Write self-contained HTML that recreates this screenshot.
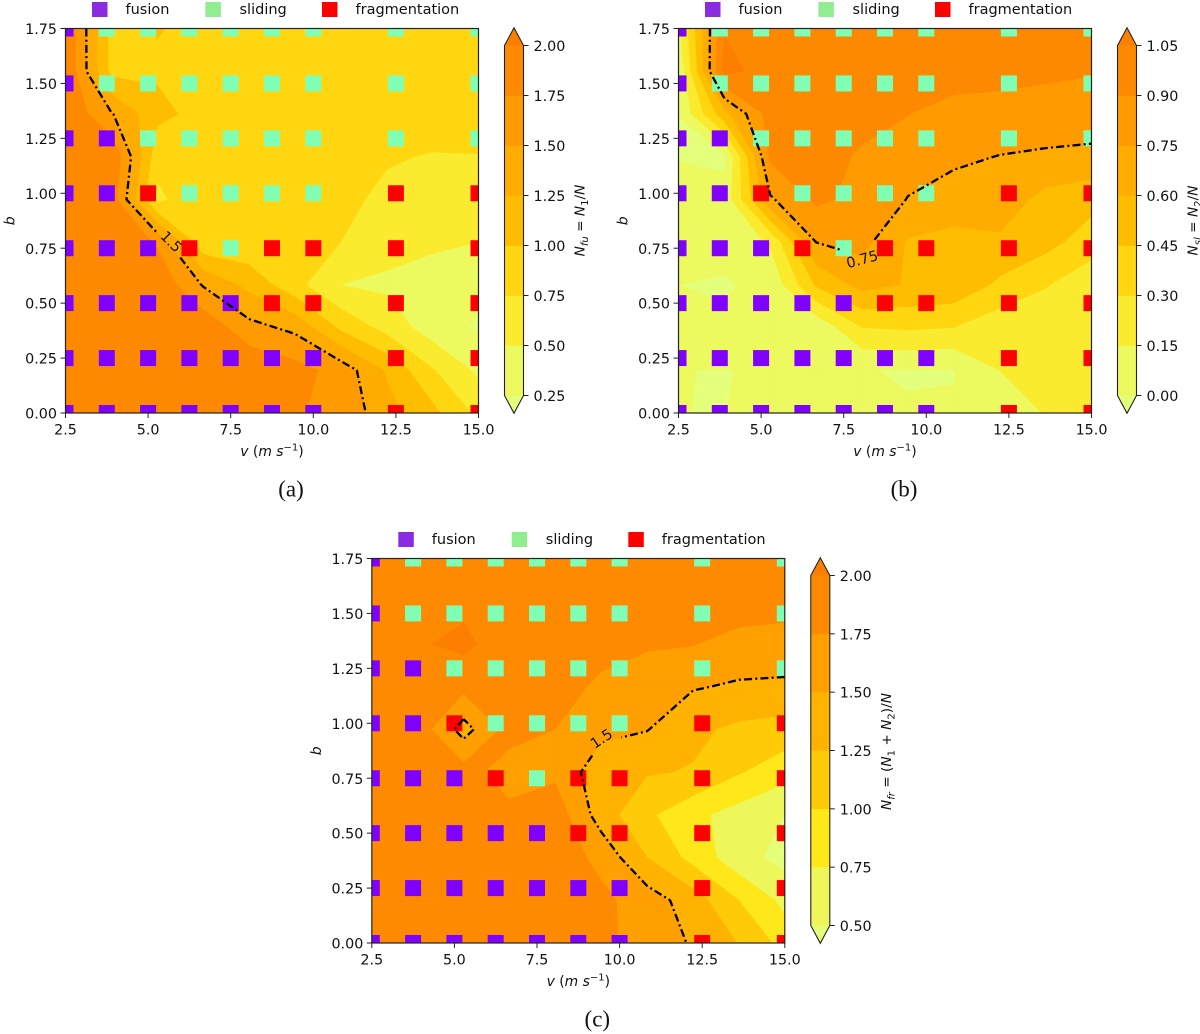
<!DOCTYPE html>
<html lang="en">
<head>
<meta charset="utf-8">
<title>Collision outcome contour maps</title>
<style>
html,body{margin:0;padding:0;background:#fff;}
svg{display:block;}
text{font-family:"DejaVu Sans","Liberation Sans",sans-serif;fill:#111;}
.cap{font-family:"Liberation Serif",serif;font-size:23px;}
</style>
</head>
<body>
<svg id="figure" xmlns="http://www.w3.org/2000/svg" width="1200" height="1034" viewBox="0 0 1200 1034"></svg>
<script>
// ---- chart data ----
const gridV = [2.5, 3.889, 5.278, 6.667, 8.056, 9.444, 10.833, 12.222, 13.611, 15];
const gridB = [1.75, 1.5556, 1.3611, 1.1667, 0.9722, 0.7778, 0.5833, 0.3889, 0.1944, 0];

const fusionValues = [
  [1.98,.92,1.01,.95,.95,.93,.95,.9,.9,.9],
  [1.98,.93,.97,.93,.93,.93,.93,.92,.9,.9],
  [1.97,1.52,1.06,.93,.93,.92,.93,.92,.92,.9],
  [1.98,1.99,.85,.85,.88,.88,.87,.78,.73,.74],
  [1.98,1.9,.68,.98,.9,.85,.83,.68,.62,.6],
  [1.98,1.98,1.72,.81,.8,.78,.75,.6,.53,.5],
  [1.98,1.98,1.95,1.48,1.18,.83,.5,.45,.42,.31],
  [1.98,1.98,1.98,1.95,1.58,1.44,.95,.665,.37,.22],
  [1.98,1.98,1.98,1.98,1.98,1.85,1.65,1.22,.77,.45],
  [1.98,1.98,1.98,1.98,1.98,1.77,1.69,1.34,1.07,.69]
];
const slidingValues = [
  [.12,1.04,1.0,.98,.98,.98,.98,.98,.98,.97],
  [.01,1.1,.99,1.03,1.02,1.0,1.0,.97,.93,.91],
  [.001,.55,.97,1.0,.98,.905,.82,.82,.83,.83],
  [-.01,-.03,.93,1.0,.87,.81,.77,.747,.73,.715],
  [.08,.05,.73,.93,.86,.745,.705,.69,.55,.5],
  [.08,.033,.17,.752,.8,.585,.538,.573,.5,.375],
  [.0004,-.01,.03,.47,.65,.59,.563,.419,.31,.2],
  [.05,.0125,.03,.03,.3,.32,.3,.203,.2,.2],
  [.0002,-.0003,.0012,.06,.003,-.005,-.002,.15,.2,.2],
  [.0008,-.002,.05,.04,.05,.005,.004,.1,.155,.2]
];
const fragmentationValues = [
  [1.9,1.9,1.92,1.92,1.92,1.92,1.92,1.92,1.9,1.85],
  [1.93,1.93,1.94,1.93,1.92,1.92,1.92,1.9,1.88,1.85],
  [1.93,1.975,2.06,1.86,1.92,1.9,1.77,1.76,1.667,1.65],
  [1.93,1.93,1.817,1.9,1.93,1.67,1.66,1.52,1.468,1.456],
  [1.93,1.9,1.40,1.85,1.75,1.57,1.51,1.3,1.2,1.15],
  [1.93,1.93,1.85,1.63,1.7,1.34,1.27,1.235,1.02,.844],
  [1.93,1.93,1.9,1.82,1.9,1.38,1.05,.81,.65,.495],
  [1.93,1.93,1.93,1.93,1.9,1.68,1.25,.917,.59,.423],
  [1.93,1.93,1.93,1.93,1.9,1.813,1.627,1.373,1.0,.68],
  [1.93,1.93,1.93,1.93,1.9,1.79,1.68,1.47,1.24,.91]
];

const markerV = [2.5, 3.75, 5, 6.25, 7.5, 8.75, 10, 12.5, 15];
const markerB = [1.75, 1.5, 1.25, 1, 0.75, 0.5, 0.25, 0];
const markerOutcomes = [
  "FSSSSSSSS",
  "FSSSSSSSS",
  "FFSSSSSSS",
  "FFRSSSSRR",
  "FFFRSRRRR",
  "FFFFFRRRR",
  "FFFFFFFRR",
  "FFFFFFFRR"
];

const xTickValues = [2.5, 5, 7.5, 10, 12.5, 15];
const xTickLabels = ["2.5", "5.0", "7.5", "10.0", "12.5", "15.0"];
const yTickValues = [0, 0.25, 0.5, 0.75, 1, 1.25, 1.5, 1.75];
const yTickLabels = ["0.00", "0.25", "0.50", "0.75", "1.00", "1.25", "1.50", "1.75"];

const levelsA = [0.25, 0.5, 0.75, 1, 1.25, 1.5, 1.75, 2];
const levelLabelsA = ["0.25", "0.50", "0.75", "1.00", "1.25", "1.50", "1.75", "2.00"];
const levelsB = [0, 0.15, 0.3, 0.45, 0.6, 0.75, 0.9, 1.05];
const levelLabelsB = ["0.00", "0.15", "0.30", "0.45", "0.60", "0.75", "0.90", "1.05"];
const levelsC = [0.5, 0.75, 1, 1.25, 1.5, 1.75, 2];
const levelLabelsC = ["0.50", "0.75", "1.00", "1.25", "1.50", "1.75", "2.00"];

const bandColorsAB = ["#e4ff7a", "#ecf95f", "#fbeb2e", "#ffd60f", "#ffbd00", "#ffac00", "#ff9b00", "#fd8900", "#fc7f00"];
const bandColorsC = ["#e4ff7a", "#edf75a", "#ffe81a", "#ffcb09", "#ffb300", "#ffa000", "#fd8a00", "#fc7f00"];

const legendNames = ["fusion", "sliding", "fragmentation"];
const legendColors = ["#8a2be2", "#90ee90", "#ff0000"];
const outcomeColors = { F: "#8000ff", S: "#80ffb4", R: "#ff0000" };

// ---- helpers ----
const NS = "http://www.w3.org/2000/svg";
const root = document.getElementById("figure");
function add(tag, parent, attrs, text) {
  const el = document.createElementNS(NS, tag);
  for (const k in attrs) el.setAttribute(k, attrs[k]);
  if (text !== undefined) el.textContent = text;
  parent.appendChild(el);
  return el;
}
function rich(el, parts) {
  let shift = 0;
  parts.forEach(function (p) {
    const t = document.createElementNS(NS, "tspan");
    const want = p.s === "sub" ? 3.5 : p.s === "sup" ? -5.5 : 0;
    if (want !== shift) t.setAttribute("dy", want - shift);
    shift = want;
    if (p.i) t.setAttribute("font-style", "italic");
    if (want !== 0) t.setAttribute("font-size", "10");
    t.textContent = p.t;
    el.appendChild(t);
  });
}

// clip a polygon [x,y,z] to z >= level
function clipPoly(poly, level) {
  const out = [];
  for (let k = 0; k < poly.length; k++) {
    const a = poly[k], b = poly[(k + 1) % poly.length];
    const ia = a[2] >= level, ib = b[2] >= level;
    if (ia) out.push(a);
    if (ia !== ib) {
      const t = (level - a[2]) / (b[2] - a[2]);
      out.push([a[0] + t * (b[0] - a[0]), a[1] + t * (b[1] - a[1]), level]);
    }
  }
  return out;
}

// iso-line segments chained into polylines
function isoLines(vals, level, xs, ys) {
  const rows = vals.length, cols = vals[0].length;
  const nbr = {}, pts = {};
  function edgePoint(key, x0, y0, z0, x1, y1, z1) {
    const t = (level - z0) / (z1 - z0);
    pts[key] = [x0 + t * (x1 - x0), y0 + t * (y1 - y0)];
    return key;
  }
  function link(a, b) {
    (nbr[a] = nbr[a] || []).push(b);
    (nbr[b] = nbr[b] || []).push(a);
  }
  for (let r = 0; r < rows - 1; r++) {
    for (let c = 0; c < cols - 1; c++) {
      const z = [vals[r][c], vals[r][c + 1], vals[r + 1][c + 1], vals[r + 1][c]];
      const px = [xs[c], xs[c + 1], xs[c + 1], xs[c]];
      const py = [ys[r], ys[r], ys[r + 1], ys[r + 1]];
      const keys = ["h" + r + "_" + c, "v" + r + "_" + (c + 1), "h" + (r + 1) + "_" + c, "v" + r + "_" + c];
      const hit = [];
      for (let e = 0; e < 4; e++) {
        const n = (e + 1) % 4;
        if ((z[e] >= level) !== (z[n] >= level)) {
          hit.push(edgePoint(keys[e], px[e], py[e], z[e], px[n], py[n], z[n]));
        }
      }
      if (hit.length === 2) link(hit[0], hit[1]);
      else if (hit.length === 4) {
        const centre = (z[0] + z[1] + z[2] + z[3]) / 4;
        if ((centre >= level) === (z[0] >= level)) { link(hit[0], hit[1]); link(hit[2], hit[3]); }
        else { link(hit[0], hit[3]); link(hit[1], hit[2]); }
      }
    }
  }
  const seen = {}, lines = [];
  function walk(start) {
    const line = [start];
    seen[start] = true;
    let cur = start, go = true;
    while (go) {
      go = false;
      for (const n of nbr[cur]) {
        if (!seen[n]) { seen[n] = true; line.push(n); cur = n; go = true; break; }
      }
    }
    if (nbr[cur].indexOf(start) >= 0 && line.length > 2) line.push(start);
    return line.map(function (k) { return pts[k]; });
  }
  Object.keys(nbr).forEach(function (k) { if (nbr[k].length === 1 && !seen[k]) lines.push(walk(k)); });
  Object.keys(nbr).forEach(function (k) { if (!seen[k]) lines.push(walk(k)); });
  return lines;
}

// cut a polyline where it passes behind a contour label
function cutAround(line, cx, cy, rad) {
  const out = [];
  let cur = [];
  for (let k = 0; k < line.length - 1; k++) {
    const a = line[k], b = line[k + 1];
    const steps = Math.max(1, Math.ceil(Math.hypot(b[0] - a[0], b[1] - a[1]) / 1.5));
    for (let s = 0; s < steps; s++) {
      const t = s / steps, x = a[0] + t * (b[0] - a[0]), y = a[1] + t * (b[1] - a[1]);
      if (Math.hypot(x - cx, y - cy) < rad) {
        if (cur.length > 1) out.push(cur);
        cur = [];
      } else {
        cur.push([x, y]);
      }
    }
  }
  const last = line[line.length - 1];
  if (Math.hypot(last[0] - cx, last[1] - cy) >= rad) cur.push(last);
  if (cur.length > 1) out.push(cur);
  return out;
}

// ---- panel drawing ----
function drawPanel(cfg) {
  const g = add("g", root, {});
  
  

  const L = cfg.left, R = cfg.left + 413, T = cfg.top, B = cfg.top + 384.5;
  const xScale = function (v) { return L + (v - 2.5) / 12.5 * (R - L); };
  const yScale = function (b) { return B - b / 1.75 * (B - T); };
  const xs = gridV.map(xScale), ys = gridB.map(yScale);
  const clipId = "clip-" + cfg.name;
  const defs = add("defs", g, {});
  const cp = add("clipPath", defs, { id: clipId });
  add("rect", cp, { x: L, y: T, width: R - L, height: B - T });

  const plot = add("g", g, { "clip-path": "url(#" + clipId + ")" });
  
  

  // filled bands: painter's order from lowest level upward
  const under = add("rect", plot, { x: L, y: T, width: R - L, height: B - T, fill: cfg.colors[0] });
  
  
  cfg.levels.forEach(function (lev, idx) {
    let d = "";
    for (let r = 0; r < cfg.values.length - 1; r++) {
      for (let c = 0; c < cfg.values[0].length - 1; c++) {
        const quad = [
          [xs[c], ys[r], cfg.values[r][c]],
          [xs[c + 1], ys[r], cfg.values[r][c + 1]],
          [xs[c + 1], ys[r + 1], cfg.values[r + 1][c + 1]],
          [xs[c], ys[r + 1], cfg.values[r + 1][c]]
        ];
        const poly = clipPoly(quad, lev);
        if (poly.length > 2) {
          d += "M" + poly.map(function (p) { return p[0].toFixed(2) + " " + p[1].toFixed(2); }).join("L") + "Z";
        }
      }
    }
    const band = add("path", plot, { d: d, fill: cfg.colors[idx + 1], stroke: cfg.colors[idx + 1], "stroke-width": 0.3 });
    
    
  });

  // scatter markers
  markerOutcomes.forEach(function (row, r) {
    markerV.forEach(function (v, c) {
      const kind = row[c];
      const m = add("rect", plot, { x: xScale(v) - 8, y: yScale(markerB[r]) - 8, width: 16, height: 16, fill: outcomeColors[kind] });
      
      
    });
  });

  // iso-line
  const lx = xScale(cfg.labelV), ly = yScale(cfg.labelB);
  isoLines(cfg.values, cfg.lineLevel, xs, ys).forEach(function (line) {
    cutAround(line, lx, ly, cfg.labelGap).forEach(function (piece) {
      const d = "M" + piece.map(function (p) { return p[0].toFixed(2) + " " + p[1].toFixed(2); }).join("L");
      const path = add("path", plot, { d: d, fill: "none", stroke: "#000", "stroke-width": 2.3, "stroke-dasharray": "8 3.2 2 3.2", "stroke-linejoin": "round" });
      
      
    });
  });
  const lab = add("text", g, { x: lx, y: ly + 5, "text-anchor": "middle", "font-size": 14.5, transform: "rotate(" + cfg.labelAngle + " " + lx + " " + ly + ")" }, cfg.lineLabel);
  
  

  // frame
  const frame = add("rect", g, { x: L, y: T, width: R - L, height: B - T, fill: "none", stroke: "#222", "stroke-width": 1.2 });
  
  

  // x axis
  xTickValues.forEach(function (v, i) {
    const x = xScale(v);
    const t = add("line", g, { x1: x, x2: x, y1: B, y2: B + 5, stroke: "#222", "stroke-width": 1 });
    
    
    const tl = add("text", g, { x: x, y: B + 21.3, "text-anchor": "middle", "font-size": 14.3 }, xTickLabels[i]);
    
    
  });
  // y axis
  yTickValues.forEach(function (b, i) {
    const y = yScale(b);
    const t = add("line", g, { x1: L - 5, x2: L, y1: y, y2: y, stroke: "#222", "stroke-width": 1 });
    
    
    const tl = add("text", g, { x: L - 8.5, y: y + 5.6, "text-anchor": "end", "font-size": 14.3 }, yTickLabels[i]);
    
    
  });

  const xt = add("text", g, { x: (L + R) / 2, y: B + 43, "text-anchor": "middle", "font-size": 13.9 });
  
  
  rich(xt, [{ t: "v", i: 1 }, { t: " (" }, { t: "m s", i: 1 }, { t: "−1", s: "sup" }, { t: ")" }]);

  const ytX = L - 51, ytY = (T + B) / 2;
  const yt = add("text", g, { x: ytX, y: ytY, "text-anchor": "middle", "font-size": 14, "font-style": "italic", transform: "rotate(-90 " + ytX + " " + ytY + ")" }, "b");
  
  

  // legend
  const legendBoxX = [26.5, 139.9, 256.5];
  const legendTextX = [60, 174, 290];
  legendNames.forEach(function (name, i) {
    const s = add("rect", g, { x: L + legendBoxX[i], y: T - 26.5, width: 15.5, height: 15, fill: legendColors[i] });
    
    
    const t = add("text", g, { x: L + legendTextX[i], y: T - 14.3, "font-size": 14.5 }, name);
    
    
  });

  // colorbar
  const cbL = L + 439, cbR = L + 458, cbTop = cfg.top + 17, cbBot = cfg.top + 367;
  const cbMid = (cbL + cbR) / 2;
  const nSteps = cfg.levels.length - 1;
  const cy = function (i) { return cbBot - i / nSteps * (cbBot - cbTop); };
  const cbar = add("g", g, {});
  
  
  const lowTip = add("path", cbar, { d: "M" + cbL + " " + cbBot + "L" + cbR + " " + cbBot + "L" + cbMid + " " + (B + 0.3) + "Z", fill: cfg.colors[0] });
  
  
  const highTip = add("path", cbar, { d: "M" + cbL + " " + cbTop + "L" + cbR + " " + cbTop + "L" + cbMid + " " + (T - 0.7) + "Z", fill: cfg.colors[cfg.colors.length - 1] });
  
  
  for (let i = 0; i < nSteps; i++) {
    const seg = add("rect", cbar, { x: cbL, y: cy(i + 1), width: cbR - cbL, height: cy(i) - cy(i + 1) + 0.3, fill: cfg.colors[i + 1] });
    
    
  }
  const outline = add("path", cbar, { d: "M" + cbL + " " + cbBot + "L" + cbMid + " " + (B + 0.3) + "L" + cbR + " " + cbBot + "L" + cbR + " " + cbTop + "L" + cbMid + " " + (T - 0.7) + "L" + cbL + " " + cbTop + "Z", fill: "none", stroke: "#222", "stroke-width": 1.1 });
  
  
  cfg.levelLabels.forEach(function (txt, i) {
    const y = cy(i);
    const t = add("line", cbar, { x1: cbR, x2: cbR + 5, y1: y, y2: y, stroke: "#222", "stroke-width": 1 });
    
    
    const tl = add("text", cbar, { x: cbR + 10, y: y + 5.5, "font-size": 14.3 }, txt);
    
    
  });
  const cx = L + cfg.cbLabelDx, cyMid = cfg.top + cfg.cbLabelDy;
  const cl = add("text", cbar, { x: cx, y: cyMid, "text-anchor": "middle", "font-size": 13.7, transform: "rotate(-90 " + cx + " " + cyMid + ")" });
  
  
  rich(cl, cfg.cbLabel);

  // caption
  const cap = add("text", g, { x: L + 225.5, y: B + 83.5, "text-anchor": "middle", "class": "cap" }, cfg.caption);
  
  
}

drawPanel({
  name: "panel-a", left: 65.5, top: 28.5, values: fusionValues,
  levels: levelsA, levelLabels: levelLabelsA, colors: bandColorsAB,
  lineLevel: 1.5, lineLabel: "1.5", labelV: 5.7, labelB: 0.78, labelGap: 17, labelAngle: 45,
  cbLabelDx: 519, cbLabelDy: 192,
  cbLabel: [{ t: "N", i: 1 }, { t: "fu", i: 1, s: "sub" }, { t: " = " }, { t: "N", i: 1 }, { t: "1", s: "sub" }, { t: "/" }, { t: "N", i: 1 }],
  caption: "(a)"
});
drawPanel({
  name: "panel-b", left: 678.5, top: 28.5, values: slidingValues,
  levels: levelsB, levelLabels: levelLabelsB, colors: bandColorsAB,
  lineLevel: 0.75, lineLabel: "0.75", labelV: 8.06, labelB: 0.7, labelGap: 22, labelAngle: -15,
  cbLabelDx: 519, cbLabelDy: 192,
  cbLabel: [{ t: "N", i: 1 }, { t: "sl", i: 1, s: "sub" }, { t: " = " }, { t: "N", i: 1 }, { t: "2", s: "sub" }, { t: "/" }, { t: "N", i: 1 }],
  caption: "(b)"
});
drawPanel({
  name: "panel-c", left: 371.8, top: 558.5, values: fragmentationValues,
  levels: levelsC, levelLabels: levelLabelsC, colors: bandColorsC,
  lineLevel: 1.5, lineLabel: "1.5", labelV: 9.45, labelB: 0.93, labelGap: 19, labelAngle: -34,
  cbLabelDx: 519, cbLabelDy: 193,
  cbLabel: [{ t: "N", i: 1 }, { t: "fr", i: 1, s: "sub" }, { t: " = (" }, { t: "N", i: 1 }, { t: "1", s: "sub" }, { t: " + " }, { t: "N", i: 1 }, { t: "2", s: "sub" }, { t: ")/" }, { t: "N", i: 1 }],
  caption: "(c)"
});
</script>
</body>
</html>
